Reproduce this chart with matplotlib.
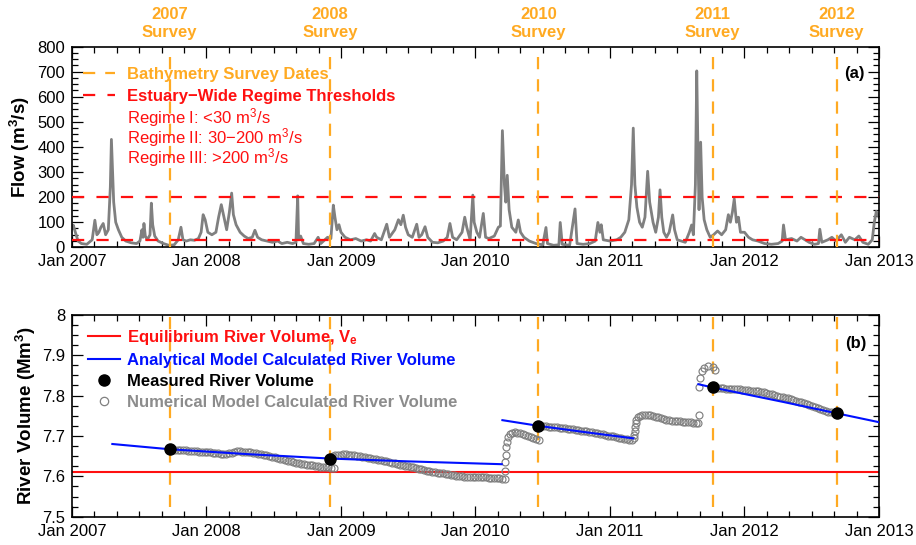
import numpy as np
import matplotlib
matplotlib.use('Agg')
import matplotlib.pyplot as plt
from matplotlib.lines import Line2D
from matplotlib.ticker import MultipleLocator, FormatStrFormatter

plt.rcParams['font.family'] = ['Liberation Sans', 'DejaVu Sans']
plt.rcParams['mathtext.fontset'] = 'custom'
plt.rcParams['mathtext.rm'] = 'Liberation Sans'
plt.rcParams['mathtext.bf'] = 'Liberation Sans:bold'
plt.rcParams['mathtext.it'] = 'Liberation Sans:italic'

# survey dates, decimal year
survey_years = [2007.726, 2008.918, 2010.467, 2011.763, 2012.686]
survey_names = ['2007', '2008', '2010', '2011', '2012']

# river flow (m3/s), panel (a)
flow_t = [2007.000, 2007.010, 2007.025, 2007.045, 2007.070, 2007.110, 2007.150, 2007.170, 2007.185, 2007.200,
          2007.215, 2007.232, 2007.250, 2007.270, 2007.285, 2007.293, 2007.300, 2007.310, 2007.325, 2007.345,
          2007.370, 2007.400, 2007.440, 2007.480, 2007.505, 2007.520, 2007.528, 2007.535, 2007.545, 2007.560,
          2007.580, 2007.590, 2007.600, 2007.615, 2007.640, 2007.680, 2007.720, 2007.760, 2007.790, 2007.810,
          2007.825, 2007.850, 2007.880, 2007.910, 2007.940, 2007.960, 2007.975, 2007.990,
          2008.010, 2008.040, 2008.070, 2008.090, 2008.110, 2008.130, 2008.150, 2008.170, 2008.187, 2008.200,
          2008.220, 2008.250, 2008.280, 2008.310, 2008.340, 2008.360, 2008.380, 2008.410, 2008.450, 2008.490,
          2008.530, 2008.560, 2008.600, 2008.640, 2008.665, 2008.678, 2008.685, 2008.700, 2008.720, 2008.760,
          2008.800, 2008.830, 2008.850, 2008.880, 2008.900, 2008.925, 2008.943, 2008.955, 2008.970, 2008.985,
          2009.000, 2009.030, 2009.070, 2009.110, 2009.150, 2009.190, 2009.220, 2009.250, 2009.265, 2009.300,
          2009.340, 2009.360, 2009.400, 2009.427, 2009.445, 2009.463, 2009.480, 2009.500, 2009.530, 2009.563,
          2009.580, 2009.600, 2009.625, 2009.645, 2009.680, 2009.720, 2009.760, 2009.790, 2009.810, 2009.830,
          2009.860, 2009.900, 2009.920, 2009.935, 2009.960, 2009.980, 2009.990,
          2010.010, 2010.030, 2010.058, 2010.075, 2010.100, 2010.140, 2010.170, 2010.185, 2010.200, 2010.215,
          2010.225, 2010.236, 2010.250, 2010.270, 2010.300, 2010.318, 2010.335, 2010.360, 2010.400, 2010.450,
          2010.500, 2010.524, 2010.535, 2010.580, 2010.620, 2010.630, 2010.645, 2010.700, 2010.740, 2010.755,
          2010.800, 2010.850, 2010.890, 2010.910, 2010.925, 2010.935, 2010.950,
          2011.000, 2011.050, 2011.080, 2011.110, 2011.140, 2011.160, 2011.173, 2011.185, 2011.200, 2011.220,
          2011.240, 2011.260, 2011.280, 2011.295, 2011.320, 2011.340, 2011.360, 2011.372, 2011.385, 2011.400,
          2011.420, 2011.440, 2011.466, 2011.480, 2011.500, 2011.530, 2011.560, 2011.590, 2011.607, 2011.620,
          2011.635, 2011.645, 2011.655, 2011.662, 2011.674, 2011.685, 2011.700, 2011.720, 2011.745, 2011.770,
          2011.800, 2011.830, 2011.860, 2011.880, 2011.895, 2011.910, 2011.924, 2011.940, 2011.955, 2011.970,
          2012.000, 2012.030, 2012.060, 2012.100, 2012.150, 2012.200, 2012.250, 2012.280, 2012.290, 2012.305,
          2012.350, 2012.390, 2012.420, 2012.450, 2012.480, 2012.520, 2012.550, 2012.560, 2012.575, 2012.620,
          2012.650, 2012.680, 2012.720, 2012.750, 2012.780, 2012.820, 2012.850, 2012.880, 2012.920, 2012.950,
          2012.965, 2012.980, 2013.000]
flow_q = [75, 88, 60, 25, 15, 12, 30, 108, 50, 60,
          80, 95, 50, 70, 240, 430, 330, 180, 100, 70,
          40, 25, 18, 15, 25, 70, 40, 95, 45, 30,
          50, 176, 90, 45, 25, 15, 8, 10, 30, 80,
          30, 25, 30, 28, 35, 60, 130, 110,
          60, 50, 60, 120, 170, 120, 70, 140, 216, 130,
          90, 60, 45, 35, 40, 68, 40, 30, 25, 20,
          25, 15, 20, 15, 20, 205, 30, 45, 15, 12,
          15, 40, 15, 30, 40, 35, 168, 120, 70, 90,
          60, 40, 30, 35, 25, 30, 25, 55, 40, 30,
          92, 40, 70, 110, 90, 128, 80, 50, 40, 92,
          40, 50, 82, 40, 20, 18, 25, 40, 95, 40,
          30, 60, 120, 80, 30, 208, 100,
          60, 40, 135, 40, 35, 45, 80, 85, 465, 250,
          180, 287, 150, 80, 60, 109, 60, 40, 25, 15,
          10, 79, 15, 8, 10, 99, 12, 8, 153, 15,
          12, 15, 25, 99, 60, 90, 30,
          25, 30, 40, 60, 110, 250, 475, 250, 160, 100,
          80, 120, 303, 180, 100, 60, 120, 229, 120, 60,
          40, 60, 129, 70, 30, 25, 20, 60, 89, 50,
          250, 703, 350, 150, 419, 200, 110, 70, 40, 50,
          65, 50, 70, 130, 100, 140, 193, 100, 120, 60,
          60, 40, 30, 25, 15, 12, 15, 25, 89, 30,
          35, 25, 40, 30, 20, 12, 15, 72, 20, 30,
          40, 25, 50, 20, 40, 30, 45, 20, 12, 30,
          100, 143, 120]

regime_thresholds = [30, 200]
regime_labels = ['Regime I: <30 m$^3$/s', 'Regime II: 30\u2212200 m$^3$/s', 'Regime III: >200 m$^3$/s']

# river volume (Mm3), panel (b)
v_equil = 7.611
meas_v = [7.667, 7.644, 7.725, 7.820, 7.756]

ana1_t = [2007.30, 2007.726, 2008.30, 2008.918, 2009.50, 2010.195]
ana1_v = [7.680, 7.667, 7.655, 7.644, 7.637, 7.630]
ana2_t = [2010.20, 2010.467, 2010.80, 2011.173]
ana2_v = [7.739, 7.725, 7.710, 7.694]
ana3_t = [2011.657, 2011.763, 2012.29, 2012.686, 2013.0]
ana3_v = [7.828, 7.820, 7.784, 7.756, 7.734]

# numerical model runs, output every 0.02 yr from each start
num_step = 0.02
num1_start = 2007.726
num1_v = [7.667, 7.667, 7.666, 7.666, 7.665, 7.664, 7.664, 7.663, 7.663, 7.662,
          7.662, 7.661, 7.660, 7.660, 7.659, 7.659, 7.658, 7.657, 7.657, 7.656,
          7.656, 7.656, 7.657, 7.658, 7.660, 7.662, 7.662, 7.661, 7.660, 7.660,
          7.659, 7.658, 7.657, 7.656, 7.655, 7.654, 7.653, 7.651, 7.649, 7.647,
          7.645, 7.644, 7.642, 7.641, 7.639, 7.637, 7.636, 7.634, 7.633, 7.631,
          7.630, 7.629, 7.628, 7.627, 7.626, 7.625, 7.624, 7.623, 7.622, 7.622,
          7.621, 7.620]
num2_start = 2008.918
num2_v = [7.644, 7.650, 7.653, 7.654, 7.654, 7.655, 7.655, 7.654, 7.653, 7.652,
          7.651, 7.650, 7.648, 7.647, 7.646, 7.645, 7.643, 7.642, 7.641, 7.640,
          7.639, 7.637, 7.636, 7.634, 7.632, 7.630, 7.628, 7.627, 7.626, 7.625,
          7.624, 7.622, 7.620, 7.619, 7.617, 7.615, 7.614, 7.613, 7.611, 7.610,
          7.609, 7.608, 7.607, 7.606, 7.605, 7.604, 7.603, 7.602, 7.601, 7.600,
          7.599, 7.599, 7.598, 7.598, 7.598, 7.599, 7.599, 7.599, 7.598, 7.597,
          7.597, 7.596, 7.595, 7.595, 7.594, 7.593]
num2_jump_t = [2010.220, 2010.222, 2010.225, 2010.230, 2010.236, 2010.245, 2010.255, 2010.270, 2010.290,
               2010.310, 2010.330, 2010.350, 2010.370, 2010.390, 2010.410, 2010.430, 2010.450, 2010.470]
num2_jump_v = [7.614, 7.635, 7.653, 7.673, 7.686, 7.697, 7.705, 7.708, 7.709,
               7.708, 7.706, 7.704, 7.702, 7.700, 7.698, 7.695, 7.692, 7.690]
num3_start = 2010.465
num3_v = [7.725, 7.725, 7.724, 7.724, 7.723, 7.722, 7.722, 7.721, 7.720, 7.720,
          7.719, 7.718, 7.717, 7.716, 7.715, 7.714, 7.713, 7.712, 7.711, 7.710,
          7.709, 7.708, 7.706, 7.705, 7.704, 7.703, 7.701, 7.700, 7.699, 7.697,
          7.696, 7.694, 7.693, 7.692, 7.691, 7.690]
num3_jump_t = [2011.175, 2011.180, 2011.183, 2011.186, 2011.190, 2011.195, 2011.205, 2011.220, 2011.240,
               2011.260, 2011.280, 2011.300, 2011.320, 2011.340, 2011.360, 2011.380, 2011.400, 2011.420,
               2011.440, 2011.460, 2011.480, 2011.500, 2011.520, 2011.540, 2011.560, 2011.580, 2011.600,
               2011.620, 2011.640, 2011.655, 2011.660, 2011.662, 2011.669, 2011.682, 2011.699, 2011.732,
               2011.769, 2011.781]
num3_jump_v = [7.694, 7.702, 7.712, 7.723, 7.732, 7.739, 7.746, 7.750, 7.752,
               7.752, 7.753, 7.751, 7.750, 7.748, 7.746, 7.744, 7.742, 7.740,
               7.739, 7.738, 7.737, 7.736, 7.736, 7.735, 7.735, 7.734, 7.734,
               7.733, 7.733, 7.733, 7.753, 7.820, 7.844, 7.860, 7.868, 7.872,
               7.870, 7.864]
num4_start = 2011.763
num4_v = [7.820, 7.820, 7.819, 7.819, 7.818, 7.817, 7.817, 7.816, 7.816, 7.815,
          7.815, 7.814, 7.814, 7.813, 7.812, 7.811, 7.811, 7.810, 7.809, 7.808,
          7.806, 7.805, 7.803, 7.801, 7.799, 7.797, 7.796, 7.794, 7.793, 7.791,
          7.789, 7.787, 7.785, 7.783, 7.781, 7.779, 7.777, 7.775, 7.772, 7.770,
          7.767, 7.765, 7.762, 7.760, 7.758, 7.757, 7.756, 7.755]

year_ticks = [2007, 2008, 2009, 2010, 2011, 2012, 2013]
year_labels = ['Jan %d' % y for y in year_ticks]

ORANGE = '#FFAA22'
RED = '#FF1010'
BLUE = '#0010FF'
GRAY = '#808080'
dash = (0, (5.5, 4.5))
rdash = (0, (5.5, 5.5))

fig = plt.figure(figsize=(9.16, 5.45), dpi=100)
ax1 = fig.add_axes([0.0786, 0.5462, 0.881, 0.3684])
ax2 = fig.add_axes([0.0786, 0.0519, 0.881, 0.3706])

for ax in (ax1, ax2):
    ax.set_xlim(2007, 2013)
    ax.set_xticks(year_ticks)
    ax.set_xticklabels(year_labels)
    ax.xaxis.set_minor_locator(MultipleLocator(1 / 6))
    ax.tick_params(which='both', direction='in', top=True, right=True, labelsize=12, width=0.9)
    ax.tick_params(which='major', length=8, pad=5)
    ax.tick_params(which='minor', length=4.5)
    for s in ax.spines.values():
        s.set_linewidth(1.2)

# ---- panel (a)
ax1.plot(flow_t, flow_q, color=GRAY, lw=2.0, zorder=2)
for th in regime_thresholds:
    ax1.axhline(th, color=RED, lw=1.6, ls=rdash, zorder=3)
for sx, sn in zip(survey_years, survey_names):
    ax1.axvline(sx, color=ORANGE, lw=1.6, ls=dash, zorder=3)
    ax1.text(sx, 1.162, sn, transform=ax1.get_xaxis_transform(), ha='center', va='center',
             color=ORANGE, fontsize=12, fontweight='bold')
    ax1.text(sx, 1.072, 'Survey', transform=ax1.get_xaxis_transform(), ha='center', va='center',
             color=ORANGE, fontsize=12, fontweight='bold')
ax1.set_ylim(0, 800)
ax1.yaxis.set_major_locator(MultipleLocator(100))
ax1.yaxis.set_minor_locator(MultipleLocator(25))
ax1.set_ylabel('Flow (m$^\\mathbf{3}$/s)', fontsize=13.5, fontweight='bold')
ax1.yaxis.set_label_coords(-0.049, 0.5)
ax1.text(0.970, 0.867, '(a)', transform=ax1.transAxes, ha='center', va='center',
         fontsize=12, fontweight='bold')

h1 = [Line2D([], [], color=ORANGE, lw=1.6, ls=dash),
      Line2D([], [], color=RED, lw=1.6, ls=rdash)]
l1 = ['Bathymetry Survey Dates', 'Estuary\u2212Wide Regime Thresholds']
leg1 = ax1.legend(h1, l1, loc='upper left', bbox_to_anchor=(0.0136, 0.900), frameon=False,
                  fontsize=12, handlelength=1.92, handletextpad=0.72, labelspacing=0.42,
                  borderpad=0, borderaxespad=0, labelcolor=[ORANGE, RED])
for t in leg1.get_texts():
    t.set_fontweight('bold')
for k, lab in enumerate(regime_labels):
    ax1.text(0.068, 0.618 - 0.1 * k, lab, transform=ax1.transAxes, ha='left', va='baseline',
             color=RED, fontsize=12)

# ---- panel (b)
ax2.axhline(v_equil, color=RED, lw=1.5, zorder=2)
for sx in survey_years:
    ax2.axvline(sx, ymin=0.05, ymax=1, color=ORANGE, lw=1.6, ls=dash, zorder=1)
num_runs = [(num1_start, num1_v, [], []),
            (num2_start, num2_v, num2_jump_t, num2_jump_v),
            (num3_start, num3_v, num3_jump_t, num3_jump_v),
            (num4_start, num4_v, [], [])]
for start, vals, jt, jv in num_runs:
    tt = start + num_step * np.arange(len(vals))
    ax2.plot(list(tt) + jt, list(vals) + jv, ls='none', marker='o', ms=5.0, mfc='none',
             mec=GRAY, mew=0.85, zorder=3)
for at, av in [(ana1_t, ana1_v), (ana2_t, ana2_v), (ana3_t, ana3_v)]:
    ax2.plot(at, av, color=BLUE, lw=1.5, zorder=4)
ax2.plot(survey_years, meas_v, ls='none', marker='o', ms=8, color='black', zorder=5)
ax2.set_ylim(7.5, 8.0)
ax2.yaxis.set_major_locator(MultipleLocator(0.1))
ax2.yaxis.set_minor_locator(MultipleLocator(0.025))
ax2.yaxis.set_major_formatter(FormatStrFormatter('%g'))
ax2.set_ylabel('River Volume (Mm$^\\mathbf{3}$)', fontsize=13.5, fontweight='bold')
ax2.yaxis.set_label_coords(-0.042, 0.5)
ax2.text(0.971, 0.857, '(b)', transform=ax2.transAxes, ha='center', va='center',
         fontsize=12, fontweight='bold')

h2 = [Line2D([], [], color=RED, lw=1.5),
      Line2D([], [], color=BLUE, lw=1.5),
      Line2D([], [], ls='none', marker='o', ms=8, color='black'),
      Line2D([], [], ls='none', marker='o', ms=6, mfc='none', mec=GRAY, mew=0.9)]
l2 = ['Equilibrium River Volume, V$_\\mathbf{e}$', 'Analytical Model Calculated River Volume',
      'Measured River Volume', 'Numerical Model Calculated River Volume']
leg2 = ax2.legend(h2, l2, loc='upper left', bbox_to_anchor=(0.0198, 0.935), frameon=False,
                  fontsize=12, handlelength=1.92, handletextpad=0.42, labelspacing=0.36,
                  borderpad=0, borderaxespad=0, numpoints=1,
                  labelcolor=[RED, BLUE, 'black', '#8C8C8C'])
for t in leg2.get_texts():
    t.set_fontweight('bold')

fig.savefig('out.png', dpi=100)
